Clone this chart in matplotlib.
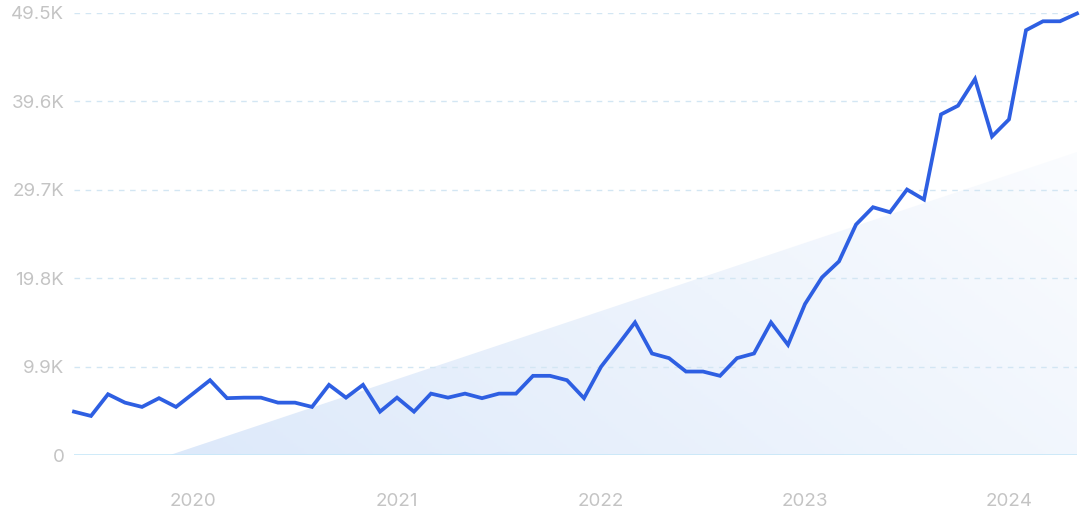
import numpy as np
import matplotlib.pyplot as plt
from matplotlib.colors import LinearSegmentedColormap

# maandelijkse waarden (x1000), jun 2019 t/m mei 2024
maanden = list(range(60))
waarden = [
    4.85, 4.37, 6.8, 5.86, 5.38, 6.36, 5.38,                      # 2019
    6.87, 8.37, 6.36, 6.42, 6.42, 5.86, 5.86, 5.38, 7.85, 6.42, 7.85, 4.85,  # 2020
    6.42, 4.85, 6.87, 6.42, 6.87, 6.36, 6.87, 6.87, 8.86, 8.86, 8.37, 6.36,  # 2021
    9.87, 12.33, 14.84, 11.36, 10.84, 9.34, 9.34, 8.86, 10.84, 11.36, 14.84, 12.33,  # 2022
    16.9, 19.88, 21.67, 25.79, 27.73, 27.17, 29.71, 28.59, 38.12, 39.09, 42.08, 35.65,  # 2023
    37.56, 47.54, 48.54, 48.54, 49.41,                             # 2024
]

# trendlijn (begin en eind, x1000)
trend_x = [5.65, 59]
trend_y = [0, 33.9]

jaar_pos = [7, 19, 31, 43, 55]
jaar_labels = ['2020', '2021', '2022', '2023', '2024']

y_ticks = [0, 9.9, 19.8, 29.7, 39.6, 49.5]
y_labels = ['0', '9.9K', '19.8K', '29.7K', '39.6K', '49.5K']

plt.rcParams['font.family'] = ['Inter', 'DejaVu Sans']

fig = plt.figure(figsize=(10.8, 5.26), dpi=100)
ax = fig.add_axes([74 / 1080, 1 - 455 / 526, (1077 - 74) / 1080, (455 - 12.7) / 526])

# trendvlak met kleurverloop
poly = ax.fill_between(trend_x, 0, trend_y, color='none', lw=0)
grad = np.linspace(0, 1, 256)
gx, gy = np.meshgrid(grad, grad)
verloop = (gx * 0.7 + (1 - gy) * 0.3)
cmap = LinearSegmentedColormap.from_list('trend', ['#dde9fa', '#ffffff'])
img = ax.imshow(verloop, cmap=cmap, extent=[trend_x[0], trend_x[1], 0, trend_y[1]],
                aspect='auto', origin='upper', zorder=1, vmin=0, vmax=1.15)
img.set_clip_path(poly.get_paths()[0], transform=ax.transData)

# rasterlijnen
for yt in y_ticks[1:]:
    ax.axhline(yt, color='#d3e6f3', linestyle=(0, (4, 4)), linewidth=1, zorder=2)
ax.axhline(0, color='#c7e7f8', linewidth=1.2, zorder=2)

ax.plot(maanden, waarden, color='#2e5fe2', linewidth=2.7, zorder=3,
        solid_joinstyle='miter', clip_on=False)

ax.set_xlim(0, 59)
ax.set_ylim(0, 49.5)
ax.set_xticks(jaar_pos)
ax.set_xticklabels(jaar_labels)
ax.set_yticks(y_ticks)
ax.set_yticklabels(y_labels)
ax.tick_params(axis='both', length=0, labelsize=13.5, labelcolor='#c4c4c4')
ax.tick_params(axis='x', pad=27)
ax.tick_params(axis='y', pad=7)
for s in ax.spines.values():
    s.set_visible(False)

fig.savefig('out.png', dpi=100)
